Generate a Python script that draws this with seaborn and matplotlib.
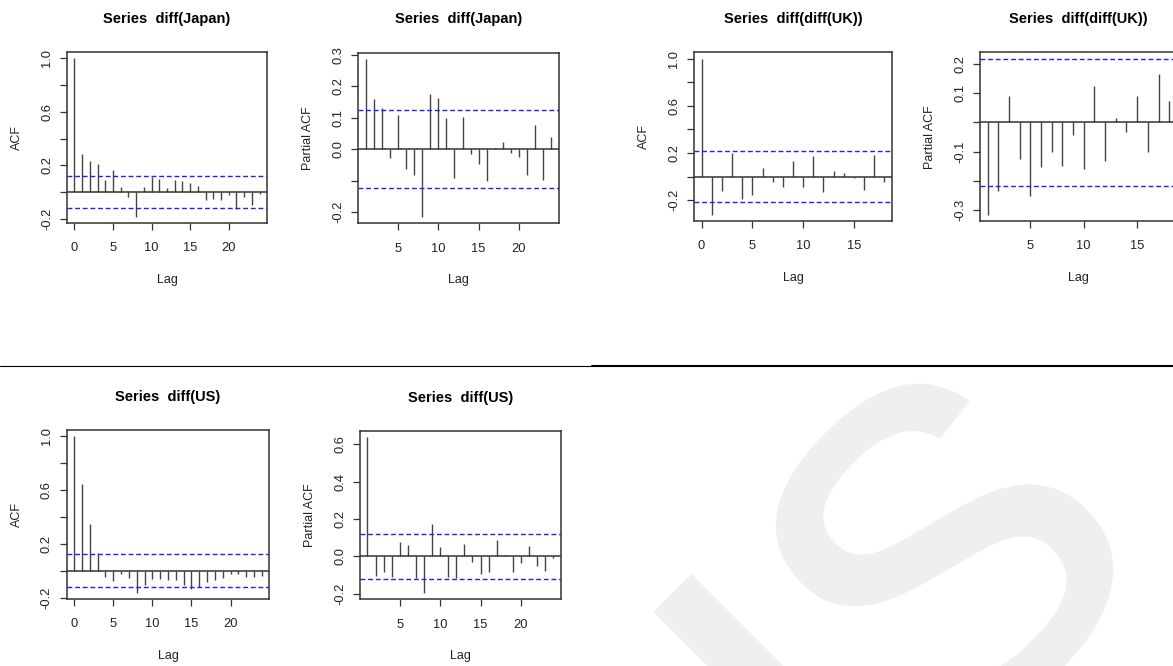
import matplotlib
matplotlib.use("Agg")
import matplotlib.pyplot as plt
from matplotlib.lines import Line2D
import pandas as pd
import seaborn as sns

japan_acf = [1.0, 0.285, 0.23, 0.2125, 0.0875, 0.1625, 0.04, -0.035, -0.185, 0.0375,
             0.1125, 0.095, 0.0275, 0.0875, 0.08, 0.065, 0.045, -0.06, -0.0525, -0.06,
             -0.0225, -0.125, -0.035, -0.0975, -0.0125]
japan_pacf = [0.287, 0.159, 0.132, -0.030, 0.109, -0.062, -0.081, -0.216, 0.176, 0.162,
              0.098, -0.091, 0.101, -0.017, -0.046, -0.101, 0.002, 0.022, -0.011, -0.024,
              -0.083, 0.077, -0.098, 0.037]
uk_acf = [1.0, -0.323, -0.118, 0.197, -0.191, -0.158, 0.076, -0.042, -0.084, 0.132,
          -0.09, 0.174, -0.129, 0.048, 0.031, -0.014, -0.115, 0.183, -0.042]
uk_pacf = [-0.315, -0.233, 0.089, -0.125, -0.252, -0.152, -0.1, -0.147, -0.042, -0.159,
           0.123, -0.131, 0.015, -0.031, 0.091, -0.1, 0.165, 0.074]
us_acf = [1.0, 0.644, 0.35, 0.13, -0.047, -0.072, -0.022, -0.055, -0.162, -0.107,
          -0.057, -0.06, -0.067, -0.065, -0.107, -0.137, -0.12, -0.085, -0.067, -0.052,
          -0.025, -0.025, -0.042, -0.042, -0.035]
us_pacf = [0.64, -0.107, -0.082, -0.112, 0.076, 0.064, -0.114, -0.196, 0.174, 0.05,
           -0.11, -0.117, 0.068, -0.032, -0.094, -0.082, 0.089, 0.007, -0.082, -0.036,
           0.057, -0.052, -0.08, -0.009]

# 95% bounds (1.96/sqrt(n))
japan_ci = 0.123
uk_ci = 0.218
us_ci = 0.122

W, H = 1173, 666

sns.set_theme(style="white")
plt.rcParams['font.family'] = ['Liberation Sans', 'DejaVu Sans']


def px_axes(fig, left, top, right, bottom):
    return fig.add_axes([left / W, 1 - bottom / H, (right - left) / W, (bottom - top) / H])


def r_range(lo, hi):
    # R's default 4% axis extension
    pad = 0.04 * (hi - lo)
    return lo - pad, hi + pad


def corr_panel(fig, box, first_lag, vals, ci, title, ylabel, yticks, ylabels, xticks):
    ax = px_axes(fig, *box)
    df = pd.DataFrame({'lag': range(first_lag, first_lag + len(vals)), 'value': vals})

    ax.vlines(df['lag'], 0, df['value'], color='#444444', lw=1.0)
    ax.axhline(0, color='#333333', lw=1.1)
    for c in (ci, -ci):
        ax.axhline(c, color='#1f1fff', lw=1.0, ls=(0, (3.5, 2)))

    ax.set_xlim(*r_range(df['lag'].min(), df['lag'].max()))
    ax.set_ylim(*r_range(min(df['value'].min(), -ci), max(df['value'].max(), ci)))

    ax.set_xticks(xticks)
    ax.set_xticklabels([str(t) for t in xticks])
    ax.set_yticks(yticks)
    ax.set_yticklabels(ylabels)
    ax.tick_params(bottom=True, left=True, direction='out', length=5, width=0.9,
                   color='#333333', labelcolor='#222222', labelsize=9.3)
    ax.tick_params(axis='x', pad=9)
    ax.tick_params(axis='y', labelrotation=90, pad=5)
    for lab in ax.get_yticklabels():
        lab.set_va('center')

    for sp in ax.spines.values():
        sp.set_color('#333333')
        sp.set_linewidth(1.1)

    w = box[2] - box[0]
    h = box[3] - box[1]
    ax.set_title(title, fontsize=10.5, fontweight='bold', color='black', pad=21)
    ax.set_xlabel('Lag', fontsize=9, color='#222222', va='center')
    ax.xaxis.set_label_coords(0.5, -57 / h)
    ax.set_ylabel(ylabel, fontsize=9, color='#222222', va='center')
    ax.yaxis.set_label_coords(-50 / w, 0.5)
    return ax


fig = plt.figure(figsize=(W / 100, H / 100), dpi=100)

acf_ticks = [-0.2, 0.0, 0.2, 0.4, 0.6, 0.8, 1.0]
acf_labels = ['-0.2', '', '0.2', '', '0.6', '', '1.0']

corr_panel(fig, (67, 52, 267, 223), 0, japan_acf, japan_ci, 'Series  diff(Japan)', 'ACF',
           acf_ticks, acf_labels, [0, 5, 10, 15, 20])
corr_panel(fig, (358.3, 52.5, 558.7, 223.3), 1, japan_pacf, japan_ci, 'Series  diff(Japan)',
           'Partial ACF', [-0.2, -0.1, 0.0, 0.1, 0.2, 0.3],
           ['-0.2', '', '0.0', '0.1', '0.2', '0.3'], [5, 10, 15, 20])
corr_panel(fig, (694.3, 52.3, 891.7, 221), 0, uk_acf, uk_ci, 'Series  diff(diff(UK))', 'ACF',
           acf_ticks, acf_labels, [0, 5, 10, 15])
corr_panel(fig, (980.3, 52.3, 1176.5, 221), 1, uk_pacf, uk_ci, 'Series  diff(diff(UK))',
           'Partial ACF', [-0.3, -0.2, -0.1, 0.0, 0.1, 0.2],
           ['-0.3', '', '-0.1', '', '0.1', '0.2'], [5, 10, 15])
corr_panel(fig, (66.7, 430, 269.3, 599), 0, us_acf, us_ci, 'Series  diff(US)', 'ACF',
           acf_ticks, acf_labels, [0, 5, 10, 15, 20])
corr_panel(fig, (360, 430.7, 560.7, 599.3), 1, us_pacf, us_ci, 'Series  diff(US)',
           'Partial ACF', [-0.2, 0.0, 0.2, 0.4, 0.6],
           ['-0.2', '0.0', '0.2', '0.4', '0.6'], [5, 10, 15, 20])

# separator between the two screenshot rows
fig.add_artist(Line2D([0, 592 / W], [1 - 365.5 / H] * 2, color='black', lw=0.8))
fig.add_artist(Line2D([592 / W, 1], [1 - 365.5 / H] * 2, color='black', lw=1.5))

# faint watermark in the empty corner
fig.text(698 / W, 1 - 985 / H, 'us', rotation=45, rotation_mode='anchor',
         ha='left', va='baseline', fontsize=440, color='#efefef', zorder=-1)

fig.savefig('out.png', dpi=100)
